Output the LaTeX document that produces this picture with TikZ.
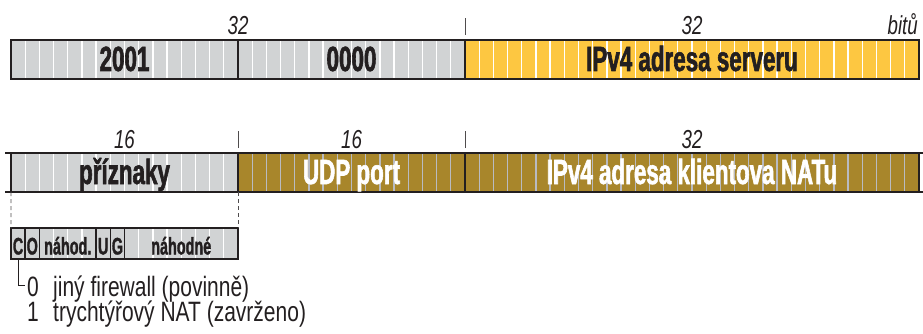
\documentclass[tikz,border=0pt]{standalone}
\usepackage{fontspec}
\setmainfont{Liberation Sans}
\newfontfamily\condfont{Liberation Sans}[UprightFont={* Bold}, FakeStretch=0.64, FakeBold=1.6]
\newfontfamily\smallcond{Liberation Sans}[UprightFont={* Bold}, FakeStretch=0.60, FakeBold=1.2]
\newfontfamily\narrowfont[FakeStretch=0.72]{Liberation Sans}
\newfontfamily\notefont[FakeStretch=0.75]{Liberation Sans}
\usetikzlibrary{calc}
\definecolor{fgray}{HTML}{D1D3D4}
\definecolor{fyellow}{HTML}{FDC741}
\definecolor{fbrown}{HTML}{A8862B}
\definecolor{ink}{HTML}{231F20}
\definecolor{stripeb}{HTML}{B9BBC2}
\def\bw{14.1875}
\begin{document}
\begin{tikzpicture}[x=1pt,y=-1pt,
  fieldbox/.style={draw=ink, line width=2.4pt, inner sep=0pt, outer sep=0pt,
    minimum height=39pt, minimum width={#1*14.1875pt}, text height=23pt, text depth=0pt,
    font=\condfont\fontsize{35}{35}\selectfont},
  smallbox/.style={draw=ink, line width=1.6pt, inner sep=0pt, outer sep=0pt, fill=fgray, text=ink,
    minimum height=31pt, minimum width={#1*14.1875pt}, text height=22pt, text depth=0pt,
    font=\smallcond\fontsize{24}{24}\selectfont},
  stripes/.style 2 args={path picture={
    \foreach \k in {1,...,#1}{
      \draw[line width=1.3pt, #2]
        ($(path picture bounding box.north west)+(\k*\bw,0)$) --
        ($(path picture bounding box.south west)+(\k*\bw,0)$);}}},
  lab/.style={font=\narrowfont\itshape\fontsize{26}{26}\selectfont, text=ink, inner sep=0pt},
  note/.style={font=\notefont\fontsize{28}{28}\selectfont, text=ink, inner sep=0pt, anchor=base west},
  tick/.style={draw=ink!80, line width=0.8pt},
  guide/.style={draw=ink!80, line width=0.9pt, dash pattern=on 4pt off 3pt},
  rule/.style={draw=ink, line width=2.4pt}
]
\useasboundingbox (0,0) rectangle (923,334);

% ---- first row ----
\node[fieldbox=16, fill=fgray, stripes={15}{white}, text=ink] (a2001) at (124.5,59.5) {2001};
\node[fieldbox=16, fill=fgray, stripes={15}{white}, text=ink] (a0000) at (351.5,59.5) {0000};
\node[fieldbox=32, fill=fyellow, stripes={31}{white}, text=ink] (srv) at (692,59.5) {IPv4 adresa serveru};

\draw[tick] ($(srv.north west)+(0,-5)$) -- ++(0,-17);
\node[lab, anchor=base] (l32a) at (238,35) {32};
\node[lab, anchor=base] (l32b) at (692,35) {32};
\node[lab, anchor=base east] (lbit) at (918,35) {bitů};

% ---- second row ----
\coordinate (rl) at (5,153);
\coordinate (rr) at (923,153);
\coordinate (bl) at (5,192);
\coordinate (br) at (923,192);
\draw[rule] (rl) -- (rr);
\draw[rule] (bl) -- (br);
\node[fieldbox=16, fill=fgray, stripes={15}{white}, text=ink] (flags) at (124.5,172.5) {příznaky};
\node[fieldbox=16, fill=fbrown, stripes={15}{stripeb}, text=white] (udp) at (351.5,172.5) {UDP port};
\node[fieldbox=32, fill=fbrown, stripes={31}{stripeb}, text=white] (nat) at (692,172.5) {IPv4 adresa klientova NATu};

\draw[tick] ($(flags.north east)+(0,-5)$) -- ++(0,-17);
\draw[tick] ($(udp.north east)+(0,-5)$) -- ++(0,-17);
\node[lab, anchor=base] (l16a) at (124.5,148) {16};
\node[lab, anchor=base] (l16b) at (351.5,148) {16};
\node[lab, anchor=base] (l32c) at (692,148) {32};

% ---- flag bits ----
\node[smallbox=1] (fc) at (18.09,243.5) {C};
\node[smallbox=1] (fo) at (32.28,243.5) {O};
\node[smallbox=4, stripes={3}{white}] (fn1) at (67.75,243.5) {náhod.};
\node[smallbox=1] (fu) at (103.22,243.5) {U};
\node[smallbox=1] (fg) at (117.41,243.5) {G};
\node[smallbox=8, stripes={7}{white}] (fn2) at (181.25,243.5) {náhodné};

\draw[guide] (flags.south west) -- (fc.north west);
\draw[guide] (flags.south east) -- (fn2.north east);

\coordinate (lend) at (25,285);
\draw[ink, line width=0.9pt] (fc.south) |- (lend);

\node[note] (v0) at (27,296) {0};
\node[note] (t0) at (53,296) {jiný firewall (povinně)};
\node[note] (v1) at (27,321.7) {1};
\node[note] (t1) at (53,321.7) {trychtýřový NAT (zavrženo)};
\end{tikzpicture}
\end{document}
